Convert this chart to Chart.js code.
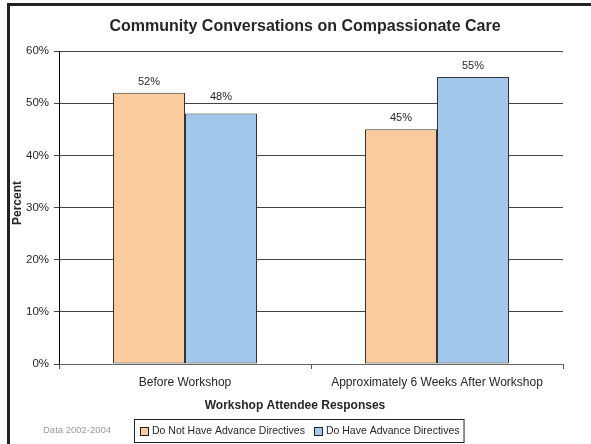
<!DOCTYPE html>
<html><head><meta charset="utf-8">
<script src="https://cdn.jsdelivr.net/npm/chart.js@4.4.1/dist/chart.umd.min.js"></script>
<style>
html,body{margin:0;padding:0;background:#fff;}
#wrap{position:relative;width:591px;height:444px;overflow:hidden;background:#fff;}
#frame{position:absolute;left:7px;top:3px;width:700px;height:600px;border-left:3px solid #222;border-top:3px solid #222;box-sizing:border-box;}
#c{position:absolute;left:0;top:0;}
</style></head>
<body>
<div id="wrap"><div id="frame"></div><canvas id="c" width="591" height="444"></canvas></div>
<script>
const chartTitle = "Community Conversations on Compassionate Care";
const xAxisTitle = "Workshop Attendee Responses";
const yAxisTitle = "Percent";
const sourceNote = "Data 2002-2004";
const categories = ["Before Workshop", "Approximately 6 Weeks After Workshop"];
const seriesNames = ["Do Not Have Advance Directives", "Do Have Advance Directives"];
const doNotHave = [52, 45];
const doHave = [48, 55];
const yTickValues = [0, 10, 20, 30, 40, 50, 60];

const FONT = "'Liberation Sans', Arial, sans-serif";
const TXT = "#262626";

const textPlugin = {
  id: 'texts',
  afterDatasetsDraw(chart) {
    const ctx = chart.ctx;
    const yScale = chart.scales.y;
    const gridYs = yTickValues.map(v => yScale.getPixelForValue(v));
    ctx.save();
    ctx.fillStyle = TXT;
    ctx.textAlign = 'center';
    ctx.textBaseline = 'middle';
    ctx.font = "11px " + FONT;
    chart.data.datasets.forEach((ds, di) => {
      const meta = chart.getDatasetMeta(di);
      meta.data.forEach((bar, i) => {
        let cy = bar.y - 11;
        // keep label clear of a gridline (place it just above the line)
        gridYs.forEach(g => { if (Math.abs(g - cy) < 5) cy = g - 6; });
        ctx.fillText(ds.data[i] + '%', bar.x, cy);
      });
    });
    ctx.restore();
  },
  afterDraw(chart) {
    const ctx = chart.ctx;
    ctx.save();
    ctx.fillStyle = TXT;
    ctx.textAlign = 'center';
    ctx.textBaseline = 'middle';
    ctx.font = "bold 16px " + FONT;
    ctx.fillText(chartTitle, 305, 27);
    ctx.font = "bold 12px " + FONT;
    ctx.fillText(xAxisTitle, 295, 406);
    ctx.save();
    ctx.translate(18, 203);
    ctx.rotate(-Math.PI / 2);
    ctx.font = "bold 12px " + FONT;
    ctx.fillText(yAxisTitle, 0, 0);
    ctx.restore();
    // source note
    ctx.font = "9.5px " + FONT;
    ctx.fillStyle = "#9a9a9a";
    ctx.textAlign = 'left';
    ctx.fillText(sourceNote, 43, 430);
    // legend
    ctx.font = "10.5px " + FONT;
    const boxL = 134, boxT = 419, boxH = 23, sq = 8;
    let x = boxL + 6;
    const items = chart.data.datasets.map(ds => ({label: ds.label, color: ds.backgroundColor}));
    const yMid = boxT + boxH / 2 + 0.5;
    const parts = [];
    items.forEach((it, k) => {
      parts.push({x, it});
      x += sq + 4 + ctx.measureText(it.label).width + (k < items.length - 1 ? 9 : 4);
    });
    const boxR = x;
    ctx.strokeStyle = "#222";
    ctx.lineWidth = 1;
    ctx.strokeRect(boxL + 0.5, boxT + 0.5, boxR - boxL, boxH);
    parts.forEach(p => {
      ctx.fillStyle = p.it.color;
      ctx.fillRect(Math.round(p.x) + 0.5, Math.round(yMid - sq / 2) + 0.5, sq, sq);
      ctx.strokeStyle = "#222";
      ctx.strokeRect(Math.round(p.x) + 0.5, Math.round(yMid - sq / 2) + 0.5, sq, sq);
      ctx.fillStyle = TXT;
      ctx.fillText(p.it.label, p.x + sq + 4, yMid);
    });
    ctx.restore();
  }
};

new Chart(document.getElementById('c'), {
  type: 'bar',
  data: {
    labels: categories,
    datasets: [
      { label: seriesNames[0], data: doNotHave, backgroundColor: '#FACB9C', borderColor: '#333', borderWidth: 1, borderSkipped: false },
      { label: seriesNames[1], data: doHave, backgroundColor: '#A1C8EC', borderColor: '#333', borderWidth: 1, borderSkipped: false }
    ]
  },
  options: {
    responsive: false,
    animation: false,
    devicePixelRatio: 1,
    layout: { padding: { left: 0, top: 51, right: 28, bottom: 0 } },
    datasets: { bar: { categoryPercentage: 144 / 252, barPercentage: 1 } },
    plugins: { legend: { display: false }, title: { display: false }, tooltip: { enabled: false } },
    scales: {
      x: {
        grid: { drawOnChartArea: false, drawTicks: true, tickLength: 5, color: '#555', offset: true },
        border: { color: '#666', width: 1 },
        ticks: { color: TXT, font: { family: FONT, size: 12 }, padding: 6, maxRotation: 0 },
        afterFit(s) { s.height = 80; }
      },
      y: {
        min: 0, max: 60,
        afterBuildTicks(s) { s.ticks = yTickValues.map(v => ({ value: v })); },
        grid: { color: '#444', lineWidth: 1, tickLength: 5 },
        border: { color: '#000', width: 1 },
        ticks: { color: TXT, font: { family: FONT, size: 11.5 }, padding: 5, callback: v => v + '%' },
        afterFit(s) { s.width = 59; }
      }
    }
  },
  plugins: [textPlugin]
});
</script>
</body></html>
